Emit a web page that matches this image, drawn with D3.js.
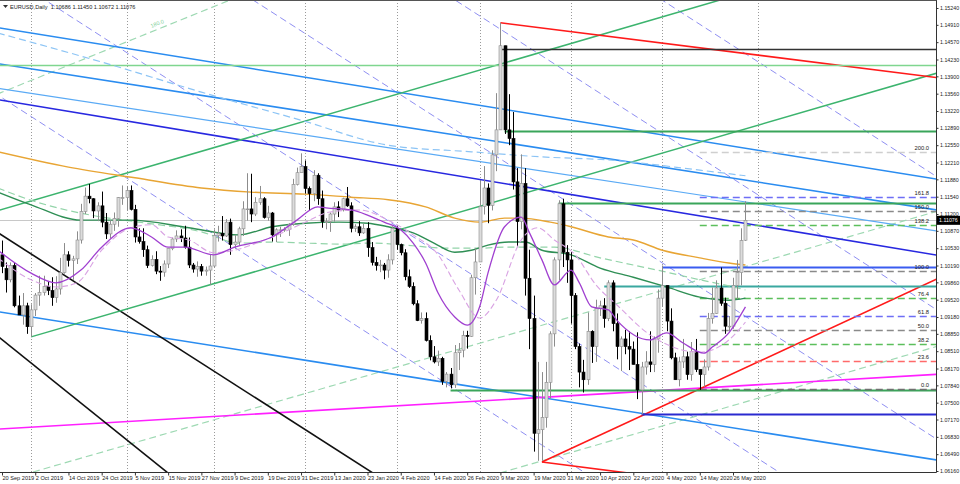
<!DOCTYPE html>
<html><head><meta charset="utf-8">
<script src="https://cdn.jsdelivr.net/npm/d3@7"></script>
<style>body{margin:0;background:#fff}svg{display:block;font-family:"Liberation Sans",Arial,sans-serif}</style>
</head><body><svg id="c" width="960" height="484"></svg>
<script>
// ---------- DATA ----------
const symbolTitle = "EURUSD,Daily  1.10686 1.11450 1.10672 1.11076";
const barDates = ["19 Sep","20 Sep","23 Sep","24 Sep","25 Sep","26 Sep","27 Sep","30 Sep","1 Oct","2 Oct","3 Oct","4 Oct","7 Oct","8 Oct","9 Oct","10 Oct","11 Oct","14 Oct","15 Oct","16 Oct","17 Oct","18 Oct","21 Oct","22 Oct","23 Oct","24 Oct","25 Oct","28 Oct","29 Oct","30 Oct","31 Oct","1 Nov","4 Nov","5 Nov","6 Nov","7 Nov","8 Nov","11 Nov","12 Nov","13 Nov","14 Nov","15 Nov","18 Nov","19 Nov","20 Nov","21 Nov","22 Nov","25 Nov","26 Nov","27 Nov","28 Nov","29 Nov","2 Dec","3 Dec","4 Dec","5 Dec","6 Dec","9 Dec","10 Dec","11 Dec","12 Dec","13 Dec","16 Dec","17 Dec","18 Dec","19 Dec","20 Dec","23 Dec","24 Dec","25 Dec","26 Dec","27 Dec","30 Dec","31 Dec","2 Jan","3 Jan","6 Jan","7 Jan","8 Jan","9 Jan","10 Jan","13 Jan","14 Jan","15 Jan","16 Jan","17 Jan","20 Jan","21 Jan","22 Jan","23 Jan","24 Jan","27 Jan","28 Jan","29 Jan","30 Jan","31 Jan","3 Feb","4 Feb","5 Feb","6 Feb","7 Feb","10 Feb","11 Feb","12 Feb","13 Feb","14 Feb","17 Feb","18 Feb","19 Feb","20 Feb","21 Feb","24 Feb","25 Feb","26 Feb","27 Feb","28 Feb","2 Mar","3 Mar","4 Mar","5 Mar","6 Mar","9 Mar","10 Mar","11 Mar","12 Mar","13 Mar","16 Mar","17 Mar","18 Mar","19 Mar","20 Mar","23 Mar","24 Mar","25 Mar","26 Mar","27 Mar","30 Mar","31 Mar","1 Apr","2 Apr","3 Apr","6 Apr","7 Apr","8 Apr","9 Apr","10 Apr","13 Apr","14 Apr","15 Apr","16 Apr","17 Apr","20 Apr","21 Apr","22 Apr","23 Apr","24 Apr","27 Apr","28 Apr","29 Apr","30 Apr","1 May","4 May","5 May","6 May","7 May","8 May","11 May","12 May","13 May","14 May","15 May","18 May","19 May","20 May","21 May","22 May","25 May","26 May","27 May","28 May","29 May"];
const barOpen = [1.1030,1.1040,1.1013,1.0991,1.1019,1.0940,1.0922,1.0940,1.0899,1.0932,1.0961,1.0966,1.0978,1.0970,1.0956,1.0973,1.1005,1.1040,1.1029,1.1032,1.1069,1.1125,1.1155,1.1150,1.1126,1.1136,1.1104,1.1081,1.1100,1.1111,1.1152,1.1152,1.1166,1.1129,1.1075,1.1066,1.1050,1.1019,1.1031,1.1008,1.1006,1.1022,1.1052,1.1071,1.1077,1.1073,1.1055,1.1020,1.1012,1.1017,1.1008,1.1010,1.1018,1.1078,1.1082,1.1077,1.1104,1.1060,1.1065,1.1091,1.1130,1.1130,1.1120,1.1143,1.1150,1.1113,1.1122,1.1079,1.1089,1.1089,1.1090,1.1100,1.1178,1.1201,1.1213,1.1170,1.1160,1.1196,1.1150,1.1105,1.1105,1.1120,1.1134,1.1128,1.1150,1.1136,1.1092,1.1095,1.1083,1.1092,1.1054,1.1025,1.1019,1.1020,1.1010,1.1030,1.1092,1.1060,1.1044,1.0997,1.0978,1.0944,1.0911,1.0915,1.0872,1.0840,1.0830,1.0837,1.0792,1.0806,1.0785,1.0848,1.0853,1.0882,1.0880,1.0995,1.1026,1.1135,1.1171,1.1137,1.1236,1.1285,1.1450,1.1285,1.1268,1.1183,1.1105,1.1180,1.0994,1.0915,1.0690,1.0697,1.0721,1.0790,1.0885,1.1030,1.1140,1.1045,1.1030,1.0960,1.0860,1.0810,1.0795,1.0890,1.0860,1.0935,1.0940,1.0915,1.0985,1.0905,1.0860,1.0875,1.0860,1.0855,1.0825,1.0775,1.0820,1.0830,1.0825,1.0875,1.0955,1.0980,1.0910,1.0838,1.0795,1.0830,1.0840,1.0805,1.0850,1.0815,1.0805,1.0820,1.0915,1.0925,1.0975,1.0945,1.0900,1.0900,1.0980,1.1005,1.10686];
const barHigh = [1.1075,1.1068,1.1025,1.1025,1.1024,1.0960,1.0965,1.0946,1.0943,1.0965,1.0999,1.0999,1.0987,1.0996,1.0998,1.1034,1.1063,1.1047,1.1038,1.1086,1.1140,1.1172,1.1179,1.1151,1.1143,1.1164,1.1122,1.1108,1.1123,1.1153,1.1176,1.1175,1.1176,1.1138,1.1092,1.1092,1.1058,1.1039,1.1047,1.1018,1.1029,1.1052,1.1074,1.1088,1.1090,1.1097,1.1074,1.1024,1.1027,1.1022,1.1017,1.1040,1.1090,1.1097,1.1116,1.1110,1.1111,1.1079,1.1095,1.1145,1.1200,1.1199,1.1153,1.1175,1.1153,1.1136,1.1124,1.1092,1.1095,1.1094,1.1102,1.1189,1.1211,1.1239,1.1225,1.1174,1.1206,1.1200,1.1166,1.1112,1.1123,1.1143,1.1145,1.1152,1.1173,1.1143,1.1100,1.1106,1.1101,1.1104,1.1065,1.1036,1.1030,1.1024,1.1041,1.1096,1.1096,1.1062,1.1051,1.1011,1.0986,1.0951,1.0927,1.0927,1.0882,1.0861,1.0852,1.0840,1.0810,1.0818,1.0863,1.0867,1.0891,1.0891,1.1001,1.1053,1.1185,1.1214,1.1180,1.1245,1.1357,1.1495,1.1450,1.1355,1.1320,1.1210,1.1237,1.1210,1.1050,1.0960,1.0830,1.0810,1.0830,1.0890,1.1035,1.1147,1.1150,1.1059,1.1045,1.0965,1.0866,1.0834,1.0927,1.0892,1.0952,1.0950,1.0955,1.0990,1.0990,1.0925,1.0880,1.0893,1.0890,1.0870,1.0888,1.0830,1.0851,1.0890,1.0880,1.0972,1.1019,1.0980,1.0935,1.0848,1.0840,1.0875,1.0850,1.0869,1.0875,1.0815,1.0835,1.0926,1.0976,1.0990,1.1015,1.0956,1.0920,1.0995,1.1030,1.1092,1.11450];
const barLow = [1.1026,1.1004,1.0966,1.0986,1.0937,1.0922,1.0903,1.0885,1.0879,1.0920,1.0940,1.0960,1.0961,1.0940,1.0946,1.0962,1.1003,1.1017,1.0991,1.1022,1.1062,1.1120,1.1141,1.1112,1.1106,1.1094,1.1071,1.1072,1.1087,1.1095,1.1138,1.1127,1.1127,1.1064,1.1062,1.1036,1.1014,1.1017,1.1002,1.0989,1.0997,1.1014,1.1049,1.1065,1.1065,1.1052,1.1014,1.1005,1.0997,1.0999,1.0999,1.0981,1.1015,1.1066,1.1068,1.1075,1.1040,1.1052,1.1058,1.1077,1.1107,1.1104,1.1116,1.1138,1.1111,1.1107,1.1066,1.1065,1.1075,1.1085,1.1077,1.1097,1.1176,1.1201,1.1160,1.1127,1.1145,1.1138,1.1093,1.1090,1.1085,1.1105,1.1114,1.1125,1.1134,1.1084,1.1085,1.1077,1.1081,1.1036,1.1019,1.1009,1.1006,1.0992,1.0995,1.1021,1.1050,1.1039,1.0990,1.0975,1.0941,1.0910,1.0905,1.0870,1.0833,1.0827,1.0822,1.0785,1.0780,1.0778,1.0779,1.0814,1.0839,1.0856,1.0879,1.0962,1.1026,1.1119,1.1102,1.1127,1.1204,1.1285,1.1277,1.1255,1.1168,1.1055,1.1090,1.0960,1.0855,1.0654,1.0636,1.0636,1.0701,1.0758,1.0860,1.0990,1.1016,1.0985,1.0905,1.0855,1.0780,1.0770,1.0785,1.0828,1.0830,1.0920,1.0897,1.0910,1.0890,1.0835,1.0812,1.0845,1.0814,1.0825,1.0757,1.0727,1.0805,1.0810,1.0810,1.0848,1.0938,1.0890,1.0835,1.0795,1.0782,1.0818,1.0795,1.0793,1.0810,1.0775,1.0781,1.0813,1.0905,1.0924,1.0940,1.0885,1.0890,1.0895,1.0953,1.0980,1.10672];
const barClose = [1.1040,1.1017,1.0991,1.1019,1.0940,1.0922,1.0940,1.0899,1.0932,1.0961,1.0966,1.0978,1.0970,1.0956,1.0973,1.1005,1.1040,1.1029,1.1032,1.1069,1.1125,1.1155,1.1150,1.1126,1.1136,1.1104,1.1081,1.1100,1.1111,1.1152,1.1152,1.1166,1.1129,1.1075,1.1066,1.1050,1.1019,1.1031,1.1008,1.1006,1.1022,1.1052,1.1071,1.1077,1.1073,1.1055,1.1020,1.1012,1.1017,1.1008,1.1010,1.1018,1.1078,1.1082,1.1077,1.1104,1.1060,1.1065,1.1091,1.1130,1.1130,1.1120,1.1143,1.1150,1.1113,1.1122,1.1079,1.1089,1.1089,1.1090,1.1100,1.1178,1.1201,1.1213,1.1170,1.1160,1.1196,1.1150,1.1105,1.1105,1.1120,1.1134,1.1128,1.1150,1.1136,1.1092,1.1095,1.1083,1.1092,1.1054,1.1025,1.1019,1.1020,1.1010,1.1030,1.1092,1.1060,1.1044,1.0997,1.0978,1.0944,1.0911,1.0915,1.0872,1.0840,1.0830,1.0837,1.0792,1.0806,1.0785,1.0848,1.0853,1.0882,1.0880,1.0995,1.1026,1.1135,1.1171,1.1137,1.1236,1.1285,1.1450,1.1285,1.1268,1.1183,1.1105,1.1180,1.0994,1.0915,1.0690,1.0697,1.0721,1.0790,1.0885,1.1030,1.1140,1.1045,1.1030,1.0960,1.0860,1.0810,1.0795,1.0890,1.0860,1.0935,1.0940,1.0915,1.0985,1.0905,1.0860,1.0875,1.0860,1.0855,1.0825,1.0775,1.0820,1.0830,1.0825,1.0875,1.0955,1.0980,1.0910,1.0838,1.0795,1.0830,1.0840,1.0805,1.0850,1.0815,1.0805,1.0820,1.0915,1.0925,1.0975,1.0945,1.0900,1.0900,1.0980,1.1005,1.1068,1.11076];

const priceTicks = ["1.15240","1.14910","1.14570","1.14230","1.13900","1.13560","1.13220","1.12890","1.12550","1.12210","1.11880","1.11540","1.11200","1.10870","1.10530","1.10190","1.09860","1.09520","1.09180","1.08850","1.08510","1.08170","1.07840","1.07500","1.07170","1.06830","1.06490","1.06160"];
const dateTickBars = [1,9,17,25,33,41,49,57,65,73,81,89,97,105,113,121,129,137,145,153,161,169,177];
const dateTickLabels = ["20 Sep 2019","2 Oct 2019","14 Oct 2019","24 Oct 2019","5 Nov 2019","15 Nov 2019","27 Nov 2019","9 Dec 2019","19 Dec 2019","31 Dec 2019","13 Jan 2020","23 Jan 2020","4 Feb 2020","14 Feb 2020","26 Feb 2020","9 Mar 2020","19 Mar 2020","31 Mar 2020","10 Apr 2020","22 Apr 2020","4 May 2020","14 May 2020","26 May 2020"];
const gridBars = [8,31,52,74,96,116,138,160,183];
const lastPrice = 1.11076;

// moving averages: [bar, price]
const maSlow = [[0,1.1242],[17,1.1212],[33,1.1191],[49,1.1171],[61,1.1163],[74,1.1159],[85,1.1153],[94,1.1148],[103,1.1134],[110,1.1112],[116,1.1104],[122,1.1112],[126,1.1112],[133,1.1104],[138,1.1095],[147,1.1075],[153,1.1069],[160,1.1049],[169,1.1034],[176,1.1024],[180,1.1020]];
const maMidSolid = [[0,1.1163],[8,1.1138],[20,1.1108],[32,1.1108],[46,1.1093],[58,1.1079],[66,1.1095],[74,1.1102],[82,1.1104],[89,1.1102],[94,1.1095],[100,1.1083],[105,1.1063],[110,1.1045],[114,1.1049],[118,1.1059],[123,1.1065],[127,1.1065],[131,1.1049],[138,1.1040],[145,1.1014],[153,1.0996],[161,1.0977],[169,1.0957],[176,1.0951],[180,1.0955]];
const maMidDash = [[0,1.1171],[8,1.1147],[25,1.1114],[34,1.1104],[49,1.1085],[58,1.1063],[66,1.1065],[74,1.1063],[82,1.1061],[90,1.1063],[98,1.1059],[108,1.1053],[116,1.1053],[122,1.1055],[134,1.1055],[145,1.1034],[153,1.1020],[161,1.1006],[169,1.0991],[176,1.0979],[180,1.0971]];
const maFast = [[0,1.1049],[8,1.1004],[14,1.0985],[20,1.1010],[25,1.1055],[32,1.1093],[37,1.1075],[41,1.1055],[45,1.1055],[52,1.1040],[57,1.1055],[66,1.1075],[72,1.1108],[77,1.1134],[79,1.1132],[85,1.1128],[89,1.1118],[93,1.1104],[97,1.1089],[100,1.1063],[103,1.1024],[106,1.0965],[110,1.0918],[113,1.0902],[116,1.0938],[118,1.1004],[122,1.1095],[126,1.1114],[128,1.1083],[131,1.1030],[134,1.0981],[138,1.1010],[140,1.0985],[143,1.0938],[147,1.0932],[149,1.0912],[157,1.0873],[161,1.0887],[165,1.0867],[170,1.0847],[172,1.0859],[176,1.0887],[180,1.0938]];
const maFastDash = [[0,1.1034],[8,1.0991],[14,1.0977],[19,1.0985],[25,1.1049],[32,1.1093],[37,1.1099],[41,1.1075],[46,1.1069],[52,1.1044],[57,1.1049],[63,1.1065],[69,1.1085],[74,1.1104],[80,1.1124],[87,1.1128],[94,1.1108],[100,1.1079],[106,1.1040],[111,1.0971],[116,1.0916],[120,1.0951],[126,1.1069],[130,1.1093],[134,1.1069],[139,1.1040],[144,1.0981],[149,1.0942],[157,1.0883],[169,1.0849],[176,1.0873],[180,1.0908]];
const maLongDash = [[0,1.1475],[25,1.1418],[49,1.1359],[73,1.1304],[94,1.1255],[114,1.1242],[131,1.1232],[147,1.1226],[169,1.1206],[180,1.1195]];

// trend lines: [bar1, price1, bar2, price2]
const redLines = [[121,1.1495,223,1.13906],[131,1.06336,223,1.09808],[131,1.06336,153.65,1.06101]];
const blackLines = [[0.52,1.10808,90.3,1.06121],[0.52,1.08768,40.97,1.06121]];
const greenRising = [[0.52,1.11278,173.9,1.15397],[8,1.0879,51,1.0981]];
const greenDashRising = [[8.46,1.0614,223,1.1118],[120.9,1.06121,223,1.0853],[0.52,1.13573,55.9,1.15397]];
const blueFalling = [[0.52,1.14848,223,1.11924],[0.52,1.14142,223,1.11318],[0.52,1.09278,223,1.06415]];
const lightBlueFalling = [[0.52,1.13657,223,1.10905]];
const navyFalling = [[0.52,1.13436,223,1.10435]];
const magentaLine = [[0.52,1.06984,223,1.08042]];
const lavenderFalling = [[0.52,1.13504,141.85,1.06100],[11.35,1.15397,188.8,1.06100],[61.43,1.15397,223,1.06944],[110.07,1.15397,223,1.09482],[159.9,1.15397,223,1.12092]];
const channelLabel = {text:"180.0", bar:37, price:1.1485};

// horizontal levels: [startBar, price]
const hGreenFull = [[-5,1.14122]];
const hBlack = [[121,1.14436]];
const hGreen = [[122,1.12828],[135,1.11416],[109,1.07748]];
const hTeal = [[146,1.09788]];
const hBlue = [[160,1.10170]];
const hNavy = [[155,1.07278]];

// fibonacci retracement
const fibLevels = [0,23.6,38.2,50,61.8,76.4,100,138.2,150,161.8,200];
const fibLabels = ["0.0","23.6","38.2","50.0","61.8","76.4","100.0","138.2","150.0","161.8","200.0"];
const fibColors = ["#707070","#ff6a6a","#5cbf5c","#8a8a8a","#6e6ef5","#5cbf5c","#8a8a8a","#5cbf5c","#8a8a8a","#6e6ef5","#cfcfcf"];
const fibStartBar = 169, fibPrice0 = 1.07768, fibPrice100 = 1.10092;

// ---------- DRAW ----------
const PR = 936, PB = 472;
const svg = d3.select("#c");
const x = d3.scaleLinear().domain([1,177]).range([2,733]);
const y = d3.scaleLinear().domain([1.06121,1.15397]).range([473,0]);
const farBar = x.invert(PR+20);

svg.append("defs").append("clipPath").attr("id","clip").append("rect").attr("x",0).attr("y",0).attr("width",PR).attr("height",PB);
const g = svg.append("g").attr("clip-path","url(#clip)");

g.selectAll(".vg").data(gridBars).join("line")
  .attr("x1",d=>Math.round(x(d))+0.5).attr("x2",d=>Math.round(x(d))+0.5).attr("y1",0).attr("y2",PB)
  .attr("stroke","#9a9a9a").attr("stroke-width",1).attr("stroke-dasharray","1,2");

g.append("line").attr("x1",0).attr("x2",PR).attr("y1",Math.round(y(lastPrice))+0.5).attr("y2",Math.round(y(lastPrice))+0.5).attr("stroke","#c8c8c8");

function at(d,b){return d[1]+(d[3]-d[1])/(d[2]-d[0])*(b-d[0]);}
function ray(arr, color, width, dash){
  g.append("g").selectAll("line").data(arr).join("line")
    .attr("x1",d=>x(d[0])).attr("y1",d=>y(d[1]))
    .attr("x2",x(farBar)).attr("y2",d=>y(at(d,farBar)))
    .attr("stroke",color).attr("stroke-width",width).attr("stroke-dasharray",dash||null);
}
function fullLine(arr,color,width,dash){
  g.append("g").selectAll("line").data(arr).join("line")
    .attr("x1",x(-10)).attr("y1",d=>y(at(d,-10)))
    .attr("x2",x(farBar)).attr("y2",d=>y(at(d,farBar)))
    .attr("stroke",color).attr("stroke-width",width).attr("stroke-dasharray",dash||null);
}
function hline(arr, color, width, dash){
  g.append("g").selectAll("line").data(arr).join("line")
    .attr("x1",d=>x(d[0])).attr("x2",PR).attr("y1",d=>Math.round(y(d[1]))+0.5).attr("y2",d=>Math.round(y(d[1]))+0.5)
    .attr("stroke",color).attr("stroke-width",width).attr("stroke-dasharray",dash||null);
}

fullLine(lavenderFalling,"#8f8ff2",1,"7,4");
fullLine(greenDashRising.slice(2),"#9ed9b3",1.2,"7,4");
ray(greenDashRising.slice(0,2),"#9ed9b3",1.2,"7,4");
// channel label along the dashed line
{const d=greenDashRising[2]; const ang=Math.atan2(y(at(d,channelLabel.bar+1))-y(at(d,channelLabel.bar)), x(channelLabel.bar+1)-x(channelLabel.bar))*180/Math.PI;
 g.append("text").attr("transform",`translate(${x(channelLabel.bar)},${y(channelLabel.price)}) rotate(${ang})`).attr("font-size",5.5).attr("fill","#7fcf9a").text(channelLabel.text);}
fullLine(blueFalling,"#2a8cf0",1.6);
fullLine(lightBlueFalling,"#5aaaf5",1.2);
fullLine(navyFalling,"#2828e0",1.6);
fullLine(magentaLine,"#ff20ff",1.6);
fullLine(blackLines,"#111",1.6);
fullLine(greenRising.slice(0,1),"#3cb46e",1.5);
ray(greenRising.slice(1),"#3cb46e",1.5);
ray(redLines,"#ff1a1a",1.6);

hline(hGreenFull,"#7fd68f",1.5);
hline(hBlack,"#333",1.5);
hline(hGreen,"#3aa55a",2);
hline(hTeal,"#3aa8a0",2);
hline(hBlue,"#3a5cf0",2);
hline(hNavy,"#2a2ad0",2);

const fib = fibLevels.map((l,i)=>({p:fibPrice0+(fibPrice100-fibPrice0)*l/100,label:fibLabels[i],color:fibColors[i]}));
g.append("g").selectAll("line").data(fib).join("line")
  .attr("x1",x(fibStartBar)).attr("x2",PR).attr("y1",d=>Math.round(y(d.p))+0.5).attr("y2",d=>Math.round(y(d.p))+0.5)
  .attr("stroke",d=>d.color).attr("stroke-width",1.3).attr("stroke-dasharray","7,4");
g.append("g").selectAll("text").data(fib).join("text")
  .attr("x",PR-7).attr("y",d=>y(d.p)-2).attr("text-anchor","end")
  .attr("font-size",5.8).attr("fill","#222").text(d=>d.label);

const line = d3.line().x(d=>x(d[0])).y(d=>y(d[1])).curve(d3.curveMonotoneX);
g.append("path").attr("d",line(maLongDash)).attr("fill","none").attr("stroke","#8cc4f5").attr("stroke-width",1.2).attr("stroke-dasharray","7,4");
g.append("path").attr("d",line(maSlow)).attr("fill","none").attr("stroke","#e8a534").attr("stroke-width",1.4);
g.append("path").attr("d",line(maMidDash)).attr("fill","none").attr("stroke","#93d4a9").attr("stroke-width",1.2).attr("stroke-dasharray","7,4");
g.append("path").attr("d",line(maMidSolid)).attr("fill","none").attr("stroke","#2f8f55").attr("stroke-width",1.4);

const bars = barOpen.map((o,i)=>({k:i,o,h:barHigh[i],l:barLow[i],c:barClose[i]}));
const cg = g.append("g");
cg.selectAll("line").data(bars).join("line")
  .attr("x1",d=>Math.round(x(d.k))+0.5).attr("x2",d=>Math.round(x(d.k))+0.5)
  .attr("y1",d=>y(d.h)).attr("y2",d=>y(d.l))
  .attr("stroke",d=>d.c>=d.o?"#8c8c8c":"#000").attr("stroke-width",1);
cg.selectAll("rect").data(bars).join("rect")
  .attr("x",d=>Math.round(x(d.k))-1).attr("width",3)
  .attr("y",d=>y(Math.max(d.o,d.c))).attr("height",d=>Math.max(0.8,Math.abs(y(d.o)-y(d.c))))
  .attr("fill",d=>d.c>=d.o?"#dcdcdc":"#000").attr("stroke",d=>d.c>=d.o?"#8c8c8c":"#000").attr("stroke-width",0.6);

g.append("path").attr("d",line(maFastDash)).attr("fill","none").attr("stroke","#d9a3e3").attr("stroke-width",1.1).attr("stroke-dasharray","6,3");
g.append("path").attr("d",line(maFast)).attr("fill","none").attr("stroke","#a040d0").attr("stroke-width",1.3);

svg.append("line").attr("x1",PR+0.5).attr("x2",PR+0.5).attr("y1",0).attr("y2",PB+0.5).attr("stroke","#333");
svg.append("line").attr("x1",0).attr("x2",PR+0.5).attr("y1",PB+0.5).attr("y2",PB+0.5).attr("stroke","#333");
svg.append("line").attr("x1",0).attr("x2",PR+0.5).attr("y1",0.5).attr("y2",0.5).attr("stroke","#555");

const ya = svg.append("g").attr("transform",`translate(${PR+0.5},0)`)
  .call(d3.axisRight(y).tickValues(priceTicks.map(Number)).tickSize(2).tickPadding(1.5).tickFormat((d,i)=>priceTicks[i]));
ya.select(".domain").remove();
ya.selectAll("text").attr("font-size",5.3).attr("fill","#222").attr("font-family","Liberation Sans");
ya.selectAll("line").attr("stroke","#333");

const xa = svg.append("g").attr("transform",`translate(0,${PB+0.5})`)
  .call(d3.axisBottom(x).tickValues(dateTickBars).tickSize(3).tickPadding(1).tickFormat((d,i)=>dateTickLabels[i]));
xa.select(".domain").remove();
xa.selectAll("text").attr("font-size",5.6).attr("fill","#222").attr("text-anchor","start").attr("font-family","Liberation Sans");
xa.selectAll("line").attr("stroke","#333");

const ly = y(lastPrice);
svg.append("rect").attr("x",PR+1).attr("y",ly-4.5).attr("width",23).attr("height",9).attr("fill","#000");
svg.append("text").attr("x",PR+3).attr("y",ly+2).attr("font-size",5.3).attr("fill","#fff").text(lastPrice.toFixed(5));

svg.append("path").attr("d","M3,5 L8,5 L5.5,8 Z").attr("fill","#333");
svg.append("text").attr("x",10).attr("y",9).attr("font-size",5.6).attr("fill","#222").attr("xml:space","preserve").text(symbolTitle);
</script></body></html>
